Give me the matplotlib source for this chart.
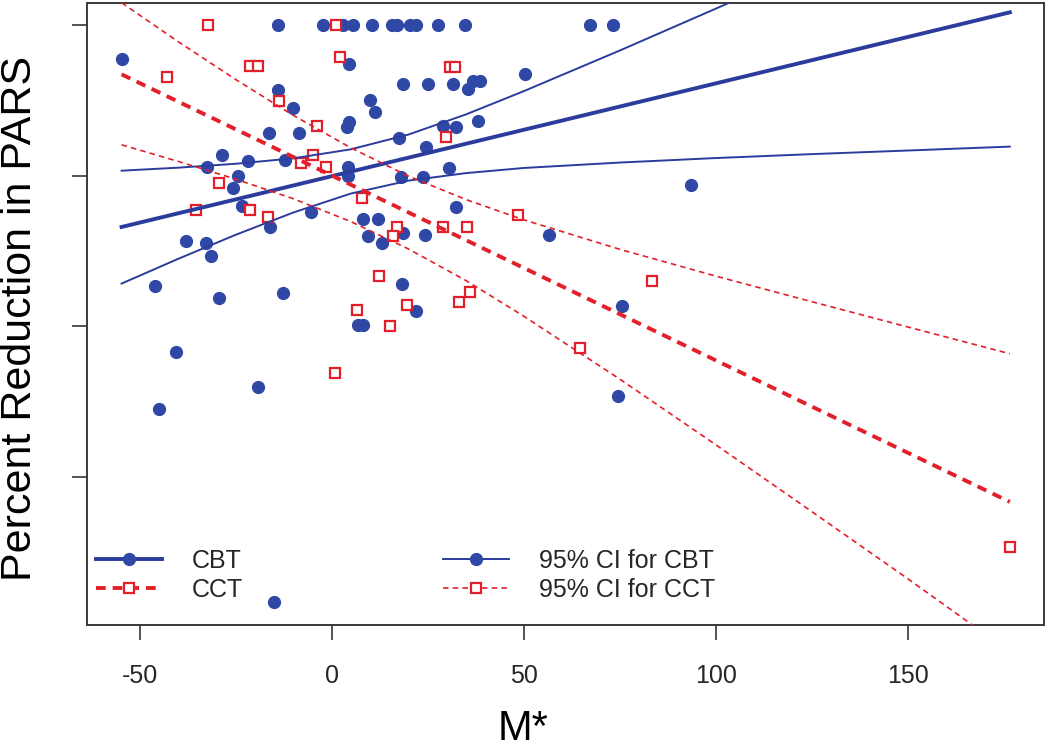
import matplotlib
matplotlib.use('Agg')
import matplotlib.pyplot as plt
from matplotlib.lines import Line2D

# CBT participants (M*, percent reduction in PARS)
cbt_x = [-13.9, -2.2, 3.0, 5.6, 10.4, 15.6, 16.9, 20.4, 22.1, 27.8, 34.7, 67.3, 73.3,
         -54.7, 4.6, 18.6, 25.2, 31.7, 35.6, 36.9, 38.6, 50.3, -13.9, 10.0, -10.0,
         11.3, 4.6, 3.9, -16.3, -8.4, 17.5, 24.7, 28.9, 32.4, 38.2, 30.6, -28.5,
         -21.7, -12.2, -32.4, 4.3, 4.3, 18.0, 23.9, -24.3, -25.6, -23.4, -16.1,
         -5.5, 8.2, 12.1, 9.5, 13.0, 18.5, 24.3, 32.4, 56.7, 93.5, -37.8, -32.7,
         -31.3, -46.0, 18.2, -12.6, -29.3, 22.0, 75.5, 6.9, 8.2, -40.4, -19.3,
         -44.9, 74.6, -15.0]
cbt_y = [100, 100, 100, 100, 100, 100, 100, 100, 100, 100, 100, 100, 100,
         88.6, 87.0, 80.4, 80.4, 80.4, 78.6, 81.5, 81.5, 83.7, 78.4, 75.1, 72.3,
         71.0, 67.9, 66.2, 64.0, 64.0, 62.4, 59.6, 66.4, 66.2, 68.2, 52.4, 56.8,
         54.9, 55.1, 52.9, 52.9, 49.8, 49.6, 49.6, 49.8, 45.7, 39.9, 33.0,
         38.0, 35.4, 35.4, 29.9, 27.7, 30.8, 30.2, 39.6, 30.2, 46.8, 28.3, 27.7,
         23.3, 13.3, 13.9, 11.1, 9.4, 5.1, 6.7, 0.3, 0.3, -8.7, -20.4,
         -27.5, -23.2, -91.8]

# CCT participants
cct_x = [-32.1, 1.1, 2.3, -42.8, -21.3, -19.1, -13.6, -3.9, -8.1, -4.8, -1.5,
         -29.3, 7.8, -35.2, -21.3, -16.5, 16.9, 15.9, 12.4, 6.5, 19.5, 15.2,
         0.9, 30.8, 32.1, 29.8, 48.6, 29.1, 35.2, 83.3, 36.0, 33.2, 64.7, 176.6]
cct_y = [100, 100, 89.3, 82.8, 86.5, 86.5, 74.8, 66.4, 54.1, 56.8, 52.9,
         47.4, 42.4, 38.5, 38.5, 36.3, 33.0, 29.9, 16.6, 5.3, 7.0, 0.0,
         -15.5, 85.9, 85.9, 62.9, 36.9, 33.0, 33.0, 15.0, 11.2, 8.1, -7.4, -73.3]

# fitted lines (read at the ends of the data range)
fit_x = [-54.7, 176.6]
cbt_fit = [32.9, 104.2]
cct_fit = [83.6, -58.4]

# 95% confidence bands
ci_x = [-54.7, -40, -25, -10, 5, 20, 35, 50, 75, 100, 125, 150, 176.6]
cbt_ci_upper = [51.6, 52.6, 53.9, 55.7, 58.7, 63.6, 70.3, 78.0, 91.5, 105.4, 119.5, 133.7, 149.0]
cbt_ci_lower = [14.1, 22.3, 30.3, 37.7, 44.0, 48.3, 50.8, 52.5, 54.3, 55.8, 57.1, 58.3, 59.6]
cct_ci_upper = [107.4, 94.5, 81.9, 70.0, 59.2, 49.8, 42.0, 35.3, 25.5, 16.6, 8.1, -0.3, -9.2]
cct_ci_lower = [60.2, 54.7, 48.8, 42.3, 34.7, 25.6, 15.1, 3.3, -17.6, -39.4, -61.6, -83.9, -108.2]

x_ticks = [-50, 0, 50, 100, 150]
y_ticks = [-50, 0, 50, 100]
legend_labels = ['CBT', 'CCT', '95% CI for CBT', '95% CI for CCT']

plt.rcParams['font.family'] = ['Liberation Sans', 'DejaVu Sans']
plt.rcParams['lines.scale_dashes'] = False

BLUE = '#2f48a6'
BLUE_LINE = '#2b3c9c'
RED = '#e3202a'
INK = '#262626'

fig = plt.figure(figsize=(10.5, 7.53), dpi=100)
ax = fig.add_axes([87 / 1050, 128 / 753, 957 / 1050, 622 / 753])

ax.plot(cbt_x, cbt_y, linestyle='none', marker='o', ms=8.5,
        mfc=BLUE, mec=BLUE, zorder=2)
ax.plot(cct_x, cct_y, linestyle='none', marker='s', ms=7.5,
        mfc='white', mec=RED, mew=1.6, zorder=2)

ax.plot(fit_x, cbt_fit, color=BLUE_LINE, lw=2.8, zorder=3)
ax.plot(ci_x, cbt_ci_upper, color=BLUE_LINE, lw=1.4, zorder=3)
ax.plot(ci_x, cbt_ci_lower, color=BLUE_LINE, lw=1.4, zorder=3)

ax.plot(fit_x, cct_fit, color=RED, lw=2.8, dashes=(7, 5), zorder=3)
ax.plot(ci_x, cct_ci_upper, color=RED, lw=1.2, dashes=(4, 3), zorder=3)
ax.plot(ci_x, cct_ci_lower, color=RED, lw=1.2, dashes=(4, 3), zorder=3)

ax.set_xlim(-63.7, 185.5)
ax.set_ylim(-99.3, 107.3)
ax.set_xticks(x_ticks)
ax.set_xticklabels([str(v) for v in x_ticks])
ax.set_yticks(y_ticks)
ax.set_yticklabels([])
ax.tick_params(axis='both', length=10.8, width=1.1, color=INK,
               labelsize=18, labelcolor=INK, pad=17)
for sp in ax.spines.values():
    sp.set_color('#3a3a3a')
    sp.set_linewidth(1.4)

handles = [
    Line2D([], [], color=BLUE_LINE, lw=2.8, marker='o', ms=8.5, mfc=BLUE, mec=BLUE),
    Line2D([], [], color=RED, lw=2.8, dashes=(7, 5), marker='s', ms=7.5,
           mfc='white', mec=RED, mew=1.6),
    Line2D([], [], color=BLUE_LINE, lw=1.4, marker='o', ms=8.5, mfc=BLUE, mec=BLUE),
    Line2D([], [], color=RED, lw=1.2, dashes=(4, 3), marker='s', ms=7.5,
           mfc='white', mec=RED, mew=1.6),
]
leg = ax.legend(handles, legend_labels, ncol=2, loc='upper left',
                bbox_to_anchor=(0.0094, 0.122), frameon=False, fontsize=18,
                handlelength=2.64, handletextpad=1.2, columnspacing=8.0,
                labelspacing=0.2, borderpad=0, borderaxespad=0, numpoints=1)
for t in leg.get_texts():
    t.set_color(INK)

fig.text(20 / 1050, 1 - 318 / 753, 'Percent Reduction in PARS', rotation=90,
         ha='center', va='center', fontsize=31, color='black')
fig.text(523 / 1050, 1 - 729 / 753, 'M*', ha='center', va='center',
         fontsize=30, color='black')

fig.savefig('out.png', dpi=100)
